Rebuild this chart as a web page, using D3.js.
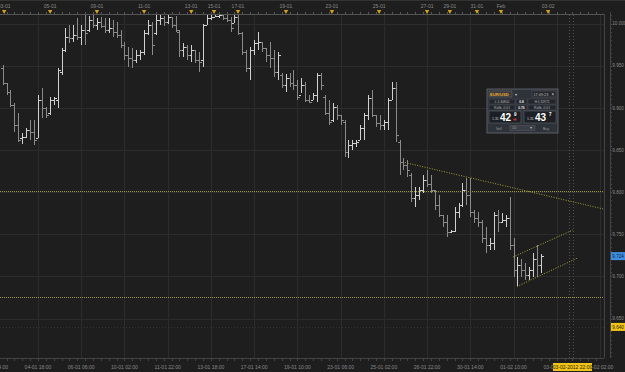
<!DOCTYPE html>
<html>
<head>
<meta charset="utf-8">
<script src="https://cdn.jsdelivr.net/npm/d3@7"></script>
<style>
  body { margin: 0; background: #1e1e1e; }
  svg { display: block; font-family: "Liberation Sans", Arial, sans-serif; }
</style>
</head>
<body>
<script>
// EUR/USD bars, one per period (index 0..137)
const highs = [9.951,9.929,9.921,9.906,9.894,9.870,9.876,9.886,9.886,9.915,9.924,9.901,9.913,9.913,9.947,9.971,9.995,9.998,9.998,10.007,
  9.998,10.010,10.009,10.011,10.007,10.008,10.007,10.007,10.004,10.002,9.992,9.978,9.972,9.971,9.969,9.969,9.992,10.004,10.002,10.010,
  10.011,10.009,10.010,10.008,10.009,9.992,9.977,9.975,9.975,9.969,9.966,9.999,10.010,10.010,10.010,10.011,10.010,10.010,10.008,10.010,
  10.010,9.990,9.969,9.972,9.981,9.990,9.978,9.971,9.978,9.969,9.966,9.941,9.940,9.941,9.945,9.933,9.935,9.931,9.915,9.918,
  9.941,9.941,9.915,9.909,9.906,9.903,9.891,9.886,9.862,9.862,9.862,9.880,9.894,9.915,9.921,9.891,9.891,9.886,9.912,9.931,
  9.931,9.862,9.841,9.838,9.823,9.806,9.806,9.820,9.826,9.820,9.803,9.797,9.773,9.773,9.755,9.782,9.787,9.811,9.817,9.817,
  9.779,9.776,9.767,9.758,9.746,9.776,9.779,9.775,9.773,9.794,9.746,9.723,9.720,9.716,9.711,9.728,9.737,9.726];
const lows = [9.927,9.915,9.901,9.871,9.860,9.857,9.864,9.862,9.856,9.864,9.888,9.888,9.891,9.903,9.900,9.939,9.966,9.977,9.978,9.981,
  9.975,9.975,9.990,9.995,9.992,9.995,9.989,9.989,9.984,9.983,9.971,9.957,9.948,9.947,9.953,9.957,9.963,9.986,9.963,9.986,
  9.998,9.997,9.999,9.995,9.990,9.960,9.960,9.957,9.954,9.953,9.943,9.948,9.998,10.004,10.008,10.007,10.004,10.002,9.990,10.001,
  9.986,9.963,9.943,9.933,9.963,9.969,9.966,9.954,9.947,9.937,9.933,9.924,9.919,9.925,9.921,9.909,9.918,9.907,9.906,9.909,
  9.907,9.921,9.891,9.880,9.883,9.886,9.880,9.842,9.841,9.850,9.854,9.862,9.862,9.886,9.889,9.877,9.874,9.874,9.874,9.909,
  9.860,9.820,9.826,9.818,9.788,9.782,9.791,9.799,9.806,9.799,9.779,9.771,9.758,9.747,9.752,9.753,9.769,9.782,9.785,9.771,
  9.763,9.758,9.740,9.728,9.731,9.731,9.753,9.763,9.759,9.731,9.699,9.688,9.699,9.696,9.696,9.699,9.699,9.704];
const opens = [9.947,9.929,9.919,9.903,9.880,9.864,9.865,9.874,9.871,9.864,9.909,9.900,9.894,9.909,9.909,9.943,9.969,9.984,9.983,9.986,
  9.984,9.992,9.992,10.004,9.998,10.002,9.997,9.992,9.995,9.990,9.986,9.975,9.963,9.959,9.957,9.963,9.966,9.989,9.998,9.989,
  10.004,10.007,10.002,10.008,9.998,9.990,9.969,9.972,9.963,9.969,9.957,9.957,9.998,10.007,10.008,10.009,10.010,10.007,10.004,10.001,
  10.008,9.989,9.966,9.947,9.969,9.977,9.978,9.971,9.963,9.959,9.943,9.939,9.927,9.935,9.929,9.927,9.915,9.927,9.909,9.909,
  9.915,9.939,9.913,9.894,9.886,9.901,9.891,9.883,9.848,9.856,9.858,9.862,9.876,9.891,9.912,9.891,9.882,9.880,9.883,9.909,
  9.924,9.860,9.836,9.832,9.820,9.793,9.797,9.803,9.814,9.809,9.803,9.785,9.773,9.765,9.753,9.754,9.776,9.785,9.803,9.797,
  9.776,9.769,9.765,9.746,9.737,9.740,9.773,9.765,9.767,9.769,9.737,9.708,9.714,9.708,9.702,9.708,9.720,9.714];
const closes = [9.929,9.919,9.903,9.880,9.862,9.865,9.874,9.871,9.862,9.909,9.900,9.891,9.909,9.912,9.945,9.969,9.984,9.983,9.986,9.984,
  9.992,9.989,10.004,9.998,10.002,9.997,9.992,9.995,9.990,9.986,9.975,9.963,9.959,9.957,9.963,9.966,9.989,9.998,9.975,10.004,
  10.007,10.002,10.008,9.998,9.992,9.969,9.972,9.963,9.969,9.957,9.954,9.998,10.007,10.008,10.009,10.010,10.007,10.004,9.995,10.008,
  9.989,9.966,9.947,9.969,9.977,9.978,9.971,9.963,9.959,9.943,9.963,9.927,9.935,9.929,9.927,9.913,9.927,9.909,9.907,9.915,
  9.939,9.927,9.894,9.883,9.901,9.891,9.886,9.848,9.856,9.858,9.860,9.876,9.891,9.912,9.891,9.882,9.880,9.883,9.909,9.924,
  9.868,9.836,9.832,9.826,9.793,9.797,9.803,9.814,9.809,9.803,9.785,9.773,9.765,9.753,9.754,9.776,9.785,9.803,9.797,9.776,
  9.769,9.765,9.746,9.737,9.740,9.773,9.765,9.767,9.769,9.737,9.708,9.714,9.708,9.702,9.708,9.720,9.714,9.724];

// price axis
const priceTicks = [10.000,9.950,9.900,9.850,9.800,9.750,9.700,9.650];
const lastPrice = 9.724;
const alertPrice = 9.640;

// time axes (bar index positions)
const bottomIdx = [-2,9,20,31,42,53,64,75,86,97,108,119,130,141,152];
const bottomLabels = ["02-01 14:00","04-01 18:00","06-01 06:00","10-01 02:00","11-01 22:00","13-01 18:00","17-01 14:00",
  "19-01 10:00","23-01 06:00","25-01 02:00","26-01 22:00","30-01 14:00","01-02 10:00","03-02 06:00","05-02 02:00"];
const dayIdx = [0.4,12.1,24,36,48,53.8,59.9,72.1,83.8,95.8,108,113.8,120.7,126.8,138.8];
const dayLabels = ["03-01","05-01","09-01","11-01","13-01","15-01","17-01","19-01","23-01","25-01","27-01","29-01","31-01","Feb","03-02"];
const cursorLabel = "03-02-2012 22:00";
const cursorIdx = [144.1, 145.1];

// drawn objects
const levels = [9.801, 9.675];
const trendLines = [
  [[102.4, 9.835], [152.8, 9.780]],
  [[129.9, 9.723], [145.1, 9.755]],
  [[130.9, 9.688], [146.4, 9.722]]
];

const W = 625, H = 372;
const plot = { left: 0, right: 604, top: 15, bottom: 358 };
const boxX = 553, boxW = 39;

const svg = d3.select("body").append("svg").attr("width", W).attr("height", H);
svg.append("rect").attr("width", W).attr("height", H).attr("fill", "#1e1e1e");

const x = d3.scaleLinear().domain([0, 152]).range([2.6, 600]);
const y = d3.scaleLinear().domain([9.650, 10.000]).range([318.5, 23.5]);
const px = v => Math.round(v) + 0.5;

const defs = svg.append("defs");
defs.append("clipPath").attr("id", "clip").append("rect")
  .attr("x", plot.left).attr("y", plot.top)
  .attr("width", plot.right - plot.left).attr("height", plot.bottom - plot.top);
// bottom labels are hidden where the cursor time box sits
const lc = defs.append("clipPath").attr("id", "labclip");
lc.append("rect").attr("x", 0).attr("y", 359).attr("width", boxX).attr("height", 13);
lc.append("rect").attr("x", boxX + boxW).attr("y", 359).attr("width", W - boxX - boxW).attr("height", 13);

// grid
const grid = svg.append("g").attr("shape-rendering", "crispEdges").attr("clip-path", "url(#clip)");
grid.selectAll(".vg").data(bottomIdx).join("line")
  .attr("x1", d => px(x(d))).attr("x2", d => px(x(d)))
  .attr("y1", plot.top).attr("y2", plot.bottom)
  .attr("stroke", "#2c2c2c");
grid.selectAll(".hg").data(priceTicks).join("line")
  .attr("x1", plot.left).attr("x2", plot.right)
  .attr("y1", d => px(y(d))).attr("y2", d => px(y(d)))
  .attr("stroke", "#2c2c2c");

// cursor / alert dotted lines
grid.selectAll(".cur").data(cursorIdx).join("line")
  .attr("x1", d => px(x(d))).attr("x2", d => px(x(d)))
  .attr("y1", plot.top).attr("y2", plot.bottom)
  .attr("stroke", "#505050").attr("stroke-dasharray", "1,2");
grid.append("line")
  .attr("x1", plot.left).attr("x2", plot.right)
  .attr("y1", px(y(alertPrice))).attr("y2", px(y(alertPrice)))
  .attr("stroke", "#333").attr("stroke-dasharray", "1,2");

// yellow levels
grid.selectAll(".lvl").data(levels).join("line")
  .attr("x1", plot.left).attr("x2", plot.right)
  .attr("y1", d => px(y(d))).attr("y2", d => px(y(d)))
  .attr("stroke", "#9e9a34").attr("stroke-dasharray", "1,1");

// OHLC bars
const bars = svg.append("g").attr("clip-path", "url(#clip)").attr("shape-rendering", "crispEdges");
const idx = d3.range(highs.length);
const col = i => closes[i] >= opens[i] ? "#d0d0d0" : "#8a8a8a";
bars.selectAll(".hl").data(idx).join("line")
  .attr("x1", i => px(x(i))).attr("x2", i => px(x(i)))
  .attr("y1", i => Math.round(y(highs[i]))).attr("y2", i => Math.round(y(lows[i])))
  .attr("stroke", col);
bars.selectAll(".op").data(idx).join("line")
  .attr("x1", i => Math.round(x(i)) - 2).attr("x2", i => Math.round(x(i)))
  .attr("y1", i => px(y(opens[i]))).attr("y2", i => px(y(opens[i])))
  .attr("stroke", col);
bars.selectAll(".cl").data(idx).join("line")
  .attr("x1", i => Math.round(x(i)) + 1).attr("x2", i => Math.round(x(i)) + 3)
  .attr("y1", i => px(y(closes[i]))).attr("y2", i => px(y(closes[i])))
  .attr("stroke", col);

// trend lines
svg.append("g").attr("clip-path", "url(#clip)").selectAll("line").data(trendLines).join("line")
  .attr("x1", d => x(d[0][0])).attr("y1", d => y(d[0][1]))
  .attr("x2", d => x(d[1][0])).attr("y2", d => y(d[1][1]))
  .attr("stroke", "#a8a236").attr("stroke-width", 1).attr("stroke-dasharray", "1,1.5");

// frame
const frame = svg.append("g").attr("shape-rendering", "crispEdges");
frame.append("line").attr("x1", 0).attr("x2", plot.right).attr("y1", 14.5).attr("y2", 14.5).attr("stroke", "#555");
frame.append("line").attr("x1", 0).attr("x2", plot.right).attr("y1", plot.bottom + 0.5).attr("y2", plot.bottom + 0.5).attr("stroke", "#444");
frame.append("line").attr("x1", plot.right + 0.5).attr("x2", plot.right + 0.5).attr("y1", 14).attr("y2", plot.bottom).attr("stroke", "#444");
frame.append("line").attr("x1", 0).attr("x2", W).attr("y1", 0.5).attr("y2", 0.5).attr("stroke", "#333");

// axis minor ticks
const minor = d3.range(-1, 153, 2);
frame.selectAll(".tt").data(minor).join("line")
  .attr("x1", d => px(x(d))).attr("x2", d => px(x(d)))
  .attr("y1", 12).attr("y2", 14)
  .attr("stroke", "#555");
frame.selectAll(".bt").data(minor).join("line")
  .attr("x1", d => px(x(d))).attr("x2", d => px(x(d)))
  .attr("y1", plot.bottom + 1).attr("y2", plot.bottom + 3)
  .attr("stroke", "#444");

// day labels with markers
svg.append("g").selectAll("text").data(dayLabels).join("text")
  .attr("x", (d, i) => x(dayIdx[i])).attr("y", 8)
  .attr("text-anchor", "middle").attr("font-size", 5).attr("fill", "#8a8a8a")
  .text(d => d);
svg.append("g").selectAll("path").data(dayIdx).join("path")
  .attr("d", d => `M${x(d) - 2.2},10 L${x(d) + 2.2},10 L${x(d)},14 Z`)
  .attr("fill", "#d6a21e");

// bottom labels
svg.append("g").attr("clip-path", "url(#labclip)").selectAll("text").data(bottomLabels).join("text")
  .attr("x", (d, i) => x(bottomIdx[i])).attr("y", 369)
  .attr("text-anchor", "middle").attr("font-size", 5).attr("fill", "#8a8a8a")
  .text(d => d);

// cursor time box
svg.append("rect").attr("x", boxX).attr("y", 363).attr("width", boxW).attr("height", 8).attr("fill", "#f0c419");
svg.append("text").attr("x", boxX + boxW / 2).attr("y", 369.2).attr("text-anchor", "middle")
  .attr("font-size", 5).attr("fill", "#2a2000").text(cursorLabel);

// right price axis
const ax = svg.append("g").attr("shape-rendering", "crispEdges");
ax.append("line").attr("x1", 610.5).attr("x2", 610.5).attr("y1", 12).attr("y2", plot.bottom).attr("stroke", "#444");
ax.selectAll(".mt").data(d3.range(9.605, 10.011, 0.005)).join("line")
  .attr("x1", 610).attr("x2", 612)
  .attr("y1", d => px(y(d))).attr("y2", d => px(y(d)))
  .attr("stroke", "#444");
ax.selectAll("text").data(priceTicks).join("text")
  .attr("x", 612.3).attr("y", d => y(d) + 1.8)
  .attr("font-size", 4.6).attr("fill", "#8a8a8a")
  .text(d => d.toFixed(3));

const markers = [{ v: lastPrice, fill: "#3f8ee0", text: "#0a2340" }, { v: alertPrice, fill: "#f0c419", text: "#2a2000" }];
markers.forEach(m => {
  svg.append("rect").attr("x", 611).attr("y", y(m.v) - 4).attr("width", 14).attr("height", 8).attr("fill", m.fill);
  svg.append("text").attr("x", 612.3).attr("y", y(m.v) + 1.8).attr("font-size", 4.6).attr("fill", m.text).text(m.v.toFixed(3));
});

// trade widget
const wg = svg.append("g").attr("transform", "translate(487,89)");
wg.append("rect").attr("width", 71).attr("height", 44).attr("fill", "#2e3239").attr("stroke", "#666c78").attr("stroke-width", 0.8);
wg.append("rect").attr("x", 2).attr("y", 2).attr("width", 23).attr("height", 6).attr("fill", "#3a3a3a").attr("stroke", "#777").attr("stroke-width", 0.4);
wg.append("text").attr("x", 3).attr("y", 6.5).attr("font-size", 4.2).attr("font-weight", "bold").attr("fill", "#e8a838").text("EUR/USD");
wg.append("text").attr("x", 27.5).attr("y", 6.5).attr("font-size", 4).attr("fill", "#ccc").text("▾");
wg.append("rect").attr("x", 45).attr("y", 2).attr("width", 24).attr("height", 6).attr("fill", "#24272d").attr("stroke", "#666").attr("stroke-width", 0.4);
wg.append("text").attr("x", 46.5).attr("y", 6.5).attr("font-size", 3.8).attr("fill", "#bbb").text("17:49:23");
wg.append("text").attr("x", 64.5).attr("y", 6.7).attr("font-size", 4.5).attr("fill", "#ddd").text("×");

const rows = [
  { yy: 10, cells: ["L:1.30850", "0.8", "H:1.31971"] },
  { yy: 16, cells: ["Rollb.-0.01", "0.76", "Rollb.-0.01"] }
];
const cellX = [2, 29, 41], cellW = [26, 11, 28];
rows.forEach(r => {
  r.cells.forEach((c, j) => {
    wg.append("rect").attr("x", cellX[j]).attr("y", r.yy).attr("width", cellW[j]).attr("height", 5)
      .attr("fill", "#23262c").attr("stroke", "#555b66").attr("stroke-width", 0.4);
    wg.append("text").attr("x", cellX[j] + cellW[j] / 2).attr("y", r.yy + 3.8).attr("text-anchor", "middle")
      .attr("font-size", 3.3).attr("fill", j === 1 ? "#eee" : "#b8b8b8").attr("font-weight", j === 1 ? "bold" : null).text(c);
  });
});

const quotes = [{ x0: 2, big: "42", sup: "9", red: true }, { x0: 37, big: "43", sup: "7", red: false }];
quotes.forEach(q => {
  wg.append("rect").attr("x", q.x0).attr("y", 22).attr("width", 32).attr("height", 12)
    .attr("fill", "#1c1f24").attr("stroke", "#6a707c").attr("stroke-width", 0.5);
  wg.append("text").attr("x", q.x0 + 3).attr("y", 30.5).attr("font-size", 3.5).attr("fill", "#ccc").text("1.31");
  wg.append("text").attr("x", q.x0 + 11).attr("y", 32).attr("font-size", 10).attr("font-weight", "bold").attr("fill", "#fff").text(q.big);
  wg.append("text").attr("x", q.x0 + 25).attr("y", 27).attr("font-size", 4.5).attr("font-weight", "bold").attr("fill", "#fff").text(q.sup);
  if (q.red) wg.append("rect").attr("x", q.x0 + 24.5).attr("y", 29.5).attr("width", 3).attr("height", 2).attr("fill", "#c03030");
});
wg.append("text").attr("x", 9).attr("y", 40.5).attr("font-size", 3.5).attr("fill", "#999").text("Sell");
wg.append("rect").attr("x", 23).attr("y", 36.5).attr("width", 25).attr("height", 5).attr("fill", "#3a3e46").attr("stroke", "#666").attr("stroke-width", 0.4);
wg.append("text").attr("x", 25).attr("y", 40.3).attr("font-size", 3.5).attr("fill", "#999").text("1D");
wg.append("text").attr("x", 43).attr("y", 40.3).attr("font-size", 3.5).attr("fill", "#bbb").text("▾");
wg.append("text").attr("x", 56).attr("y", 40.5).attr("font-size", 3.5).attr("fill", "#999").text("Buy");
</script>
</body>
</html>
